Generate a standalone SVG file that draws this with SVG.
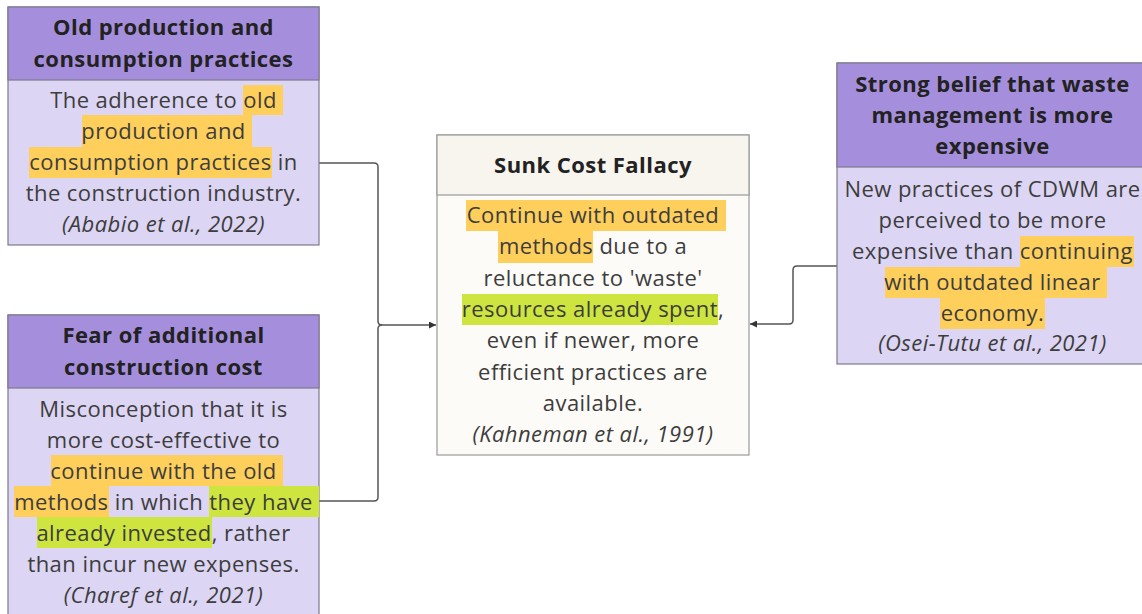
<svg xmlns="http://www.w3.org/2000/svg" width="1142" height="614" viewBox="0 0 1142 614">
  <style>
    .hdr { fill: #a58fdd; stroke: #7e7a8c; stroke-width: 1.2; }
    .body { fill: #dcd5f3; stroke: #7e7a8c; stroke-width: 1.2; }
    .chdr { fill: #f8f4ee; stroke: #9a9a9a; stroke-width: 1.2; }
    .cbody { fill: #fdfbf8; stroke: #9a9a9a; stroke-width: 1.2; }
    .hl-o { fill: #ffcf5c; }
    .hl-g { fill: #cee53f; }
    .title { font-family: "Open Sans", "Liberation Sans", sans-serif; font-size: 22px; letter-spacing: 0.45px; font-weight: bold; fill: #222; text-anchor: middle; }
    .txt { font-family: "Open Sans", "Liberation Sans", sans-serif; font-size: 22px; letter-spacing: 0.45px; fill: #3d3d3d; text-anchor: middle; }
    .cite { font-family: "Open Sans", "Liberation Sans", sans-serif; font-size: 22px; letter-spacing: 0.45px; font-style: italic; fill: #3d3d3d; text-anchor: middle; }
    .conn { fill: none; stroke: #555; stroke-width: 1.5; }
  </style>
  <defs>
    <marker id="arrow" viewBox="0 0 10 10" refX="10" refY="5" markerWidth="7" markerHeight="7" markerUnits="userSpaceOnUse" orient="auto">
      <path d="M0,0 L10,5 L0,10 z" fill="#333"/>
    </marker>
  </defs>

  <!-- connectors -->
  <g id="connectors">
    <path class="conn" d="M319,163 H374 Q378,163 378,167 V321 Q378,325 382,325 H436" marker-end="url(#arrow)"/>
    <path class="conn" d="M319,501 H374 Q378,501 378,497 V329 Q378,325 382,325"/>
    <path class="conn" d="M837,266 H797 Q793,266 793,270 V320 Q793,324 789,324 H750" marker-end="url(#arrow)"/>
  </g>

  <!-- Old production and consumption practices -->
  <g id="node-old-practices">
    <rect class="body" x="8" y="7" width="311" height="238"/>
    <rect class="hdr" x="8" y="7" width="311" height="73"/>
    <text class="title" x="163.5" y="35">Old production and</text>
    <text class="title" x="163.5" y="67">consumption practices</text>
    <rect class="hl-o" x="243" y="85" width="40" height="30"/>
    <rect class="hl-o" x="82" y="115" width="170" height="32"/>
    <rect class="hl-o" x="29" y="147" width="243" height="31"/>
    <text class="txt" x="163.5" y="108">The adherence to old</text>
    <text class="txt" x="163.5" y="139">production and</text>
    <text class="txt" x="163.5" y="170">consumption practices in</text>
    <text class="txt" x="163.5" y="201">the construction industry.</text>
    <text class="cite" x="163.5" y="232">(Ababio et al., 2022)</text>
  </g>

  <!-- Fear of additional construction cost -->
  <g id="node-fear-cost">
    <rect class="body" x="8" y="315" width="311" height="310"/>
    <rect class="hdr" x="8" y="315" width="311" height="73"/>
    <text class="title" x="163.5" y="343">Fear of additional</text>
    <text class="title" x="163.5" y="375">construction cost</text>
    <rect class="hl-o" x="51" y="455" width="232" height="31"/>
    <rect class="hl-o" x="14" y="486" width="95" height="31"/>
    <rect class="hl-g" x="209" y="486" width="110" height="31"/>
    <rect class="hl-g" x="37" y="517" width="175" height="31"/>
    <text class="txt" x="163.5" y="417">Misconception that it is</text>
    <text class="txt" x="163.5" y="448">more cost-effective to</text>
    <text class="txt" x="163.5" y="479">continue with the old</text>
    <text class="txt" x="163.5" y="510">methods in which they have</text>
    <text class="txt" x="163.5" y="541">already invested, rather</text>
    <text class="txt" x="163.5" y="572">than incur new expenses.</text>
    <text class="cite" x="163.5" y="603">(Charef et al., 2021)</text>
  </g>

  <!-- Sunk Cost Fallacy -->
  <g id="node-sunk-cost">
    <rect class="cbody" x="437" y="135" width="312" height="320"/>
    <rect class="chdr" x="437" y="135" width="312" height="60"/>
    <text class="title" x="593" y="173">Sunk Cost Fallacy</text>
    <rect class="hl-o" x="466" y="200" width="260" height="31"/>
    <rect class="hl-o" x="498" y="231" width="95" height="32"/>
    <rect class="hl-g" x="462" y="294" width="256" height="31"/>
    <text class="txt" x="593" y="223">Continue with outdated</text>
    <text class="txt" x="593" y="254">methods due to a</text>
    <text class="txt" x="593" y="286">reluctance to 'waste'</text>
    <text class="txt" x="593" y="317">resources already spent,</text>
    <text class="txt" x="593" y="348">even if newer, more</text>
    <text class="txt" x="593" y="380">efficient practices are</text>
    <text class="txt" x="593" y="411">available.</text>
    <text class="cite" x="593" y="442">(Kahneman et al., 1991)</text>
  </g>

  <!-- Strong belief that waste management is more expensive -->
  <g id="node-waste-mgmt">
    <rect class="body" x="837" y="63" width="311" height="301"/>
    <rect class="hdr" x="837" y="63" width="311" height="104"/>
    <text class="title" x="992.5" y="92">Strong belief that waste</text>
    <text class="title" x="992.5" y="123">management is more</text>
    <text class="title" x="992.5" y="154">expensive</text>
    <rect class="hl-o" x="1020" y="236" width="114" height="31"/>
    <rect class="hl-o" x="885" y="267" width="222" height="31"/>
    <rect class="hl-o" x="940" y="298" width="105" height="31"/>
    <text class="txt" x="992.5" y="197">New practices of CDWM are</text>
    <text class="txt" x="992.5" y="228">perceived to be more</text>
    <text class="txt" x="992.5" y="259">expensive than continuing</text>
    <text class="txt" x="992.5" y="290">with outdated linear</text>
    <text class="txt" x="992.5" y="321">economy.</text>
    <text class="cite" x="992.5" y="351">(Osei-Tutu et al., 2021)</text>
  </g>
</svg>
